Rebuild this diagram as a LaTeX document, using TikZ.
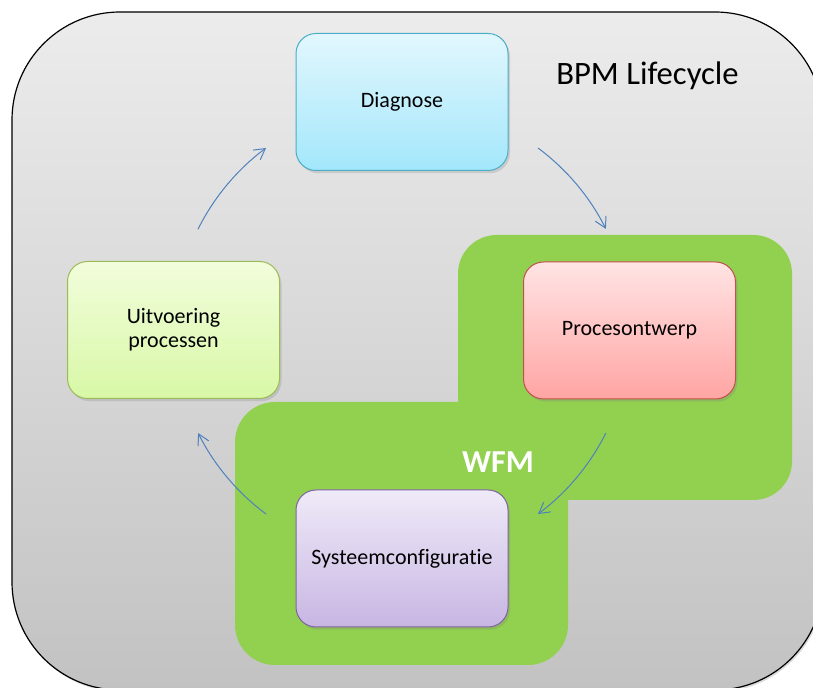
\documentclass[tikz,border=0pt]{standalone}
\usepackage{fontspec}
\setmainfont{Carlito}[Ligatures=NoCommon]
\usetikzlibrary{arrows.meta,shadows}

\definecolor{frametop}{HTML}{ECECEC}
\definecolor{framebot}{HTML}{C2C2C2}
\definecolor{wfmgreen}{HTML}{92D050}
\definecolor{flowblue}{HTML}{4F81BD}
\definecolor{diagtop}{HTML}{E2F7FD}
\definecolor{diagbot}{HTML}{A3E7FB}
\definecolor{diagline}{HTML}{4BACC6}
\definecolor{ontwtop}{HTML}{FFE4E4}
\definecolor{ontwbot}{HTML}{FFA5A3}
\definecolor{ontwline}{HTML}{C0504D}
\definecolor{conftop}{HTML}{EFEAF8}
\definecolor{confbot}{HTML}{C8B6E3}
\definecolor{confline}{HTML}{8064A2}
\definecolor{uitvtop}{HTML}{F2FDDC}
\definecolor{uitvbot}{HTML}{D8F8A6}
\definecolor{uitvline}{HTML}{9BBB59}

\tikzset{
  phase/.style={draw, line width=0.75pt, rounded corners=15pt,
    minimum width=159pt, minimum height=102.75pt, align=center,
    font=\fontsize{16.5}{18}\selectfont,
    drop shadow={shadow xshift=1.5pt, shadow yshift=-2pt, opacity=0.25}},
  flow/.style={draw=flowblue, line width=0.75pt,
    -{Straight Barb[length=8pt,width=9pt]}}
}

\begin{document}
\begin{tikzpicture}[x=75pt,y=75pt]
    \useasboundingbox (0,0) rectangle (8.13,6.88);
    \clip (0,0) rectangle (8.13,6.88);

    \draw[line width=0.9pt, rounded corners=81pt, top color=frametop, bottom color=framebot,
      drop shadow={shadow xshift=1pt, shadow yshift=-1.5pt, opacity=0.3}]
      (0.12,6.76) rectangle (8.23,-0.02); %lifecycle frame

    \fill[wfmgreen, rounded corners=29pt] (4.58,4.53) rectangle (7.92,1.88); %wfm upper
    \fill[wfmgreen, rounded corners=30pt] (2.35,2.86) rectangle (5.68,0.23); %wfm lower

    \node[font=\fontsize{24.5}{29}\selectfont] (title) at (6.475,6.125) {BPM Lifecycle};
    \node[font=\fontsize{24}{29}\selectfont\bfseries, text=white] (wfm) at (4.98,2.26) {WFM};

    \node[phase, draw=diagline, top color=diagtop, bottom color=diagbot] (diagnose) at (4.02,5.86) {Diagnose};
    \node[phase, draw=ontwline, top color=ontwtop, bottom color=ontwbot] (ontwerp) at (6.295,3.575) {Procesontwerp};
    \node[phase, draw=confline, top color=conftop, bottom color=confbot] (config) at (4.02,1.295) {Systeemconfiguratie};
    \node[phase, draw=uitvline, top color=uitvtop, bottom color=uitvbot] (uitvoering) at (1.735,3.58) {Uitvoering\\processen};

    % cycle arrows
    \coordinate (hub) at (4.02,3.57);
    \foreach \from/\to in {153.5/126.6, 53.4/26.6, -26.6/-53.4, -126.6/-153.4}
      \draw[flow] ([shift={(\from:2.28)}]hub) arc[start angle=\from, end angle=\to, radius=2.28];
\end{tikzpicture}
\end{document}
